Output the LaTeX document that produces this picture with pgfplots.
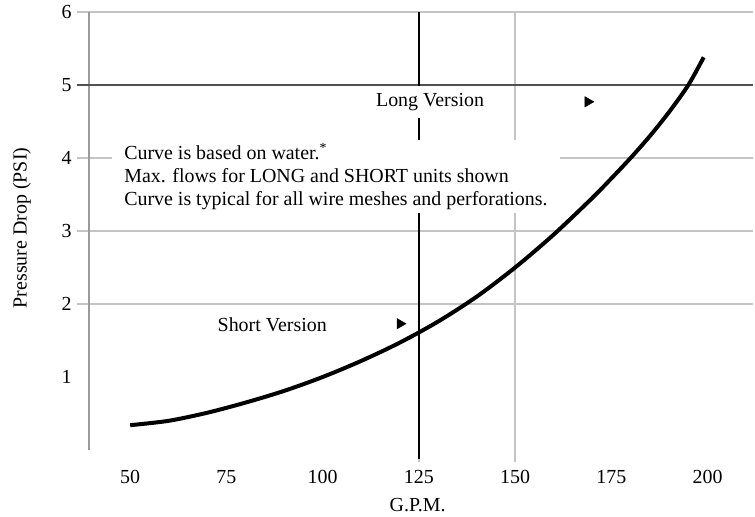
\documentclass[border=0pt]{standalone}
\usepackage{fontspec}
\setmainfont{Liberation Serif}
\usepackage{pgfplots}
\pgfplotsset{compat=1.18}
\definecolor{gridgray}{HTML}{C4C4C4}
\definecolor{axisgray}{HTML}{9A9A9A}
\definecolor{darkline}{HTML}{505050}
\begin{document}
\begin{tikzpicture}
\begin{axis}[
  at={(0,0)}, anchor=south west,
  scale only axis,
  width=664bp, height=438bp,
  xmin=39.3, xmax=211.8,
  ymin=0, ymax=6,
  axis x line*=bottom,
  axis y line*=left,
  x axis line style={draw=none},
  y axis line style={axisgray, line width=1.2bp},
  xtick={125,150},
  ytick={2,3,4,5,6},
  extra x ticks={50,75,100,175,200},
  extra y ticks={1},
  extra x tick style={tick style={draw=none}, grid=none},
  extra y tick style={tick style={draw=none}, grid=none},
  tick align=outside,
  major tick length=12bp,
  tick style={gridgray, line width=1.3bp},
  xmajorgrids, ymajorgrids,
  grid style={gridgray, line width=1.3bp},
  /pgf/number format/assume math mode=true,
  ticklabel style={font=\fontsize{20}{20}\selectfont},
  xticklabel style={yshift=-5bp},
  yticklabel style={xshift=-2bp},
  xlabel={G.P.M.},
  ylabel={Pressure Drop (PSI)},
  label style={font=\fontsize{20}{20}\selectfont},
  xlabel style={at={(axis description cs:0.495,-0.1256)}, anchor=center},
  ylabel style={at={(axis description cs:-0.101,0.507)}, anchor=center},
  clip=false,
]
% darker reference lines
\draw[darkline, line width=1.6bp] ([xshift=-12bp]axis cs:39.3,5) -- (axis cs:211.8,5);
\draw[black, line width=1.4bp] ([yshift=-9bp]axis cs:125,0) -- (axis cs:125,6);

% notes
\node[fill=white, anchor=west, align=left, inner xsep=12bp, inner ysep=3bp,
      font=\fontsize{20}{23}\selectfont]
  at (axis cs:45.3,3.75)
  {Curve is based on water.\textsuperscript{*}\\
   Max. flows for LONG and SHORT units shown\\
   Curve is typical for all wire meshes and perforations.};
\node[fill=white, inner xsep=6bp, inner ysep=7bp, font=\fontsize{20}{20}\selectfont]
  at (axis cs:127.9,4.77) {Long Version};
\node[fill=white, inner sep=2bp, font=\fontsize{20}{20}\selectfont]
  at (axis cs:86.9,1.71) {Short Version};

% pressure drop curve
\addplot[black, line width=4bp, smooth] coordinates {
  (50,0.34) (60,0.40) (70,0.51) (80,0.65) (90,0.81) (100,1.00)
  (110,1.22) (120,1.47) (130,1.76) (140,2.10) (150,2.50) (160,2.95)
  (170,3.45) (175,3.72) (180,4.00) (185,4.30) (190,4.63) (195,5.00)
  (199,5.38)
};

% max flow markers
\addplot[only marks, mark=triangle*, mark size=6bp,
         mark options={rotate=-90, fill=black, draw=black}]
  coordinates {(168.9,4.77) (120.1,1.73)};
\end{axis}
\pgfresetboundingbox
\path (-89bp,-67bp) rectangle (666bp,450bp);
\end{tikzpicture}
\end{document}
